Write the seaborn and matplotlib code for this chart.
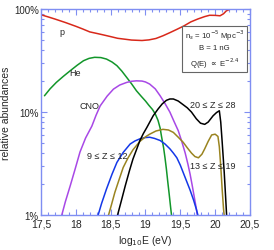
import numpy as np
import pandas as pd
import seaborn as sns
import matplotlib
matplotlib.use("Agg")
import matplotlib.pyplot as plt
from matplotlib.ticker import FuncFormatter, FixedLocator, LogLocator, NullFormatter, MultipleLocator

# relative abundances (%) vs log10 E
p_E = [17.5, 17.6, 17.7, 17.85, 18.0, 18.1, 18.2, 18.3, 18.4, 18.5, 18.6, 18.7, 18.8, 18.95, 19.05, 19.15,
       19.25, 19.35, 19.45, 19.55, 19.65, 19.75, 19.85, 19.92, 20.0, 20.07, 20.12, 20.16, 20.22, 20.5]
p_val = [88, 84, 80, 74, 68, 64, 60, 58, 56, 54, 52, 51, 50, 49.5, 50.2, 51.8,
         55, 59, 63.5, 68.5, 75, 80, 84.5, 87, 86.8, 86, 90, 96, 100, 100]

he_E = [17.55, 17.63, 17.72, 17.82, 17.92, 18.02, 18.11, 18.19, 18.27, 18.36, 18.44, 18.52, 18.59, 18.66,
        18.73, 18.8, 18.87, 18.94, 19.0, 19.05, 19.1, 19.14, 19.18, 19.21, 19.23, 19.26, 19.28, 19.3, 19.32,
        19.34, 19.36, 19.39]
he_val = [14.4, 16.8, 19.4, 22.2, 25.2, 28.5, 31.5, 33.2, 34, 33.8, 32.7, 30.6, 28.2, 25.0,
          21.7, 18.8, 16.1, 14.2, 12.8, 11.6, 10.6, 9.6, 8.3, 7.0, 5.8, 4.5, 3.6, 2.8, 2.1,
          1.6, 1.2, 0.8]

cno_E = [17.78, 17.85, 17.92, 17.99, 18.06, 18.14, 18.23, 18.29, 18.35, 18.45, 18.54, 18.63, 18.73, 18.8,
         18.87, 18.95, 19.0, 19.06, 19.14, 19.21, 19.28, 19.35, 19.41, 19.47, 19.52, 19.57, 19.61, 19.64,
         19.67, 19.70, 19.73, 19.76]
cno_val = [0.9, 1.35, 1.93, 2.8, 4.1, 5.6, 7.3, 9.3, 11.5, 14.3, 16.7, 18.3, 19.4, 19.9,
           20.1, 20.0, 19.6, 18.7, 16.8, 14.4, 12.1, 10, 8.1, 6.6, 5.2, 4.0, 3.1, 2.5,
           1.95, 1.5, 1.15, 0.85]

ne_E = [18.31, 18.37, 18.44, 18.52, 18.59, 18.68, 18.78, 18.85, 18.92, 18.99, 19.06, 19.13, 19.21, 19.28,
        19.35, 19.4, 19.45, 19.5, 19.55, 19.6, 19.64, 19.69, 19.73, 19.78]
ne_val = [0.95, 1.3, 1.79, 2.5, 3.25, 4.06, 4.9, 5.25, 5.5, 5.65, 5.7, 5.55, 5.3, 4.9,
          4.4, 4.0, 3.6, 3.05, 2.5, 2.05, 1.75, 1.4, 1.14, 0.85]

si_E = [18.46, 18.51, 18.56, 18.62, 18.68, 18.75, 18.82, 18.92, 19.0, 19.06, 19.15, 19.25, 19.33, 19.40,
        19.47, 19.54, 19.6, 19.66, 19.71, 19.76, 19.81, 19.85, 19.9, 19.95, 20.0, 20.04, 20.06, 20.08,
        20.1, 20.12, 20.14]
si_val = [0.95, 1.25, 1.66, 2.2, 2.9, 3.6, 4.3, 5.2, 5.75, 6.1, 6.55, 6.8, 6.7, 6.35,
          5.7, 5.1, 4.5, 4.0, 3.7, 3.6, 3.9, 4.4, 5.2, 6.0, 6.1, 5.8, 4.6, 3.0,
          1.8, 1.15, 0.85]

fe_E = [18.59, 18.65, 18.71, 18.77, 18.82, 18.87, 18.92, 18.97, 19.02, 19.07, 19.11, 19.18, 19.24, 19.30,
        19.35, 19.40, 19.47, 19.54, 19.6, 19.66, 19.73, 19.79, 19.85, 19.9, 19.97, 20.02, 20.06, 20.08,
        20.1, 20.13, 20.15, 20.17]
fe_val = [0.95, 1.35, 1.93, 2.7, 3.5, 4.3, 5.3, 6.2, 7.1, 8.2, 9.2, 10.7, 12.0, 13.0,
          13.4, 13.4, 12.8, 11.8, 11.0, 10.0, 8.6, 7.8, 7.6, 8.0, 9.2, 9.9, 10.3, 8.0,
          5.2, 2.6, 1.5, 0.85]

xticks = [17.5, 18, 18.5, 19, 19.5, 20, 20.5]
yticks = [1, 10, 100]

series = {"p": (p_E, p_val), "He": (he_E, he_val), "CNO": (cno_E, cno_val),
          "9-12": (ne_E, ne_val), "13-19": (si_E, si_val), "20-28": (fe_E, fe_val)}
df = pd.concat([pd.DataFrame({"E": e, "frac": v, "group": k}) for k, (e, v) in series.items()],
               ignore_index=True)

palette = {"p": "#d8281a", "He": "#12962a", "CNO": "#a848e6",
           "9-12": "#1438e8", "13-19": "#9a8420", "20-28": "black"}

sns.set_style("ticks")
plt.rcParams['font.family'] = ['Liberation Sans', 'DejaVu Sans']
axcol = "#7f8ef2"

fig = plt.figure(figsize=(2.74, 2.51), dpi=100)
ax = fig.add_axes([0.1496, 0.139, 0.7628, 0.821])

sns.lineplot(data=df, x="E", y="frac", hue="group", palette=palette, units="group",
             estimator=None, sort=False, legend=False, linewidth=1.1, ax=ax)

ax.set_yscale("log")
ax.set_xlim(17.5, 20.5)
ax.set_ylim(1, 100)

ax.xaxis.set_major_locator(FixedLocator(xticks))
ax.xaxis.set_minor_locator(MultipleLocator(0.1))
ax.xaxis.set_major_formatter(FuncFormatter(lambda v, _: f"{v:g}".replace(".", ",")))
ax.yaxis.set_major_locator(FixedLocator(yticks))
ax.yaxis.set_minor_locator(LogLocator(base=10, subs=np.arange(2, 10)))
ax.yaxis.set_major_formatter(FuncFormatter(lambda v, _: f"{v:g}%"))
ax.yaxis.set_minor_formatter(NullFormatter())

ax.tick_params(which="both", direction="in", top=True, right=True, color=axcol, pad=2.5)
ax.tick_params(axis="x", labelsize=7.5)
ax.tick_params(axis="y", labelsize=7, pad=1.5)
ax.tick_params(which="major", length=4, width=0.8)
ax.tick_params(which="minor", length=2.5, width=0.8)
for s in ax.spines.values():
    s.set_color(axcol)
    s.set_linewidth(1.0)

ax.set_xlabel("log$_{10}$E (eV)", fontsize=7.5, labelpad=3)
ax.set_ylabel("relative abundances", fontsize=7.5, labelpad=2)

lab = dict(fontsize=6.5, ha="center", va="center")
ax.text(17.80, 60, "p", **lab)
ax.text(17.99, 24, "He", **lab)
ax.text(18.2, 11.7, "CNO", **lab)
ax.text(18.45, 3.83, "9 ≤ Z ≤ 12", **lab)
ax.text(19.96, 11.9, "20 ≤ Z ≤ 28", **lab)
ax.text(19.97, 3.06, "13 ≤ Z ≤ 19", **lab)

ax.text(19.99, 41, "n$_s$ = 10$^{-5}$ Mpc$^{-3}$\nB = 1 nG\nQ(E) $\\propto$ E$^{-2.4}$",
        fontsize=5.6, ha="center", va="center", linespacing=1.4,
        bbox=dict(boxstyle="square,pad=0.3", fc="white", ec="#666666", lw=0.8))

fig.savefig("out.png", dpi=100)
